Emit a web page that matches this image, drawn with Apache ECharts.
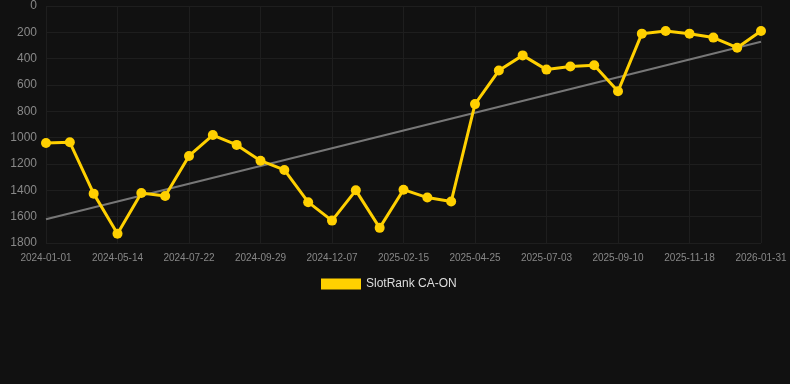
<!DOCTYPE html>
<html>
<head>
<meta charset="utf-8">
<script src="https://cdn.jsdelivr.net/npm/echarts@6/dist/echarts.min.js"></script>
<style>
    html, body { margin: 0; padding: 0; background: #111111; }
    #chart { width: 790px; height: 384px; }
</style>
</head>
<body>
<div id="chart"></div>
<script>
var dates = ['2024-01-01', '2024-02-14', '2024-03-29', '2024-05-14', '2024-06-06', '2024-06-29',
    '2024-07-22', '2024-08-14', '2024-09-06', '2024-09-29', '2024-10-22', '2024-11-14',
    '2024-12-07', '2024-12-30', '2025-01-23', '2025-02-15', '2025-03-10', '2025-04-02',
    '2025-04-25', '2025-05-18', '2025-06-10', '2025-07-03', '2025-07-26', '2025-08-18',
    '2025-09-10', '2025-10-03', '2025-10-26', '2025-11-18', '2025-12-13', '2026-01-07',
    '2026-01-31'];
var ranks = [1040, 1035, 1425, 1730, 1420, 1443, 1139, 980, 1055, 1175, 1245, 1490,
    1630, 1400, 1685, 1395, 1455, 1485, 745, 490, 375, 483, 460, 450,
    648, 210, 190, 210, 240, 317, 190];
var trendEnds = [1620, 271];
var yTicks = [0, 1800, 200];

var myChart = echarts.init(document.getElementById('chart'));
var option = {
    backgroundColor: '#111111',
    animation: false,
    grid: { left: 46, right: 29, top: 6, bottom: 141 },
    legend: {
        data: ['SlotRank CA-ON'],
        top: 273,
        left: 316,
        itemWidth: 40,
        itemHeight: 11,
        icon: 'rect',
        textStyle: { color: '#dddddd', fontSize: 12, fontFamily: 'Liberation Sans' }
    },
    xAxis: {
        type: 'category',
        boundaryGap: false,
        data: dates,
        axisLine: { show: false },
        axisTick: { show: false },
        axisLabel: { color: '#888888', fontSize: 10, interval: 2, margin: 10, fontFamily: 'Liberation Sans' },
        splitLine: { show: true, interval: 2, lineStyle: { color: '#1e1e1e', width: 1 } }
    },
    yAxis: {
        type: 'value',
        inverse: true,
        min: yTicks[0],
        max: yTicks[1],
        interval: yTicks[2],
        axisLine: { show: false },
        axisTick: { show: false },
        axisLabel: {
            color: '#888888', fontSize: 12, margin: 9, fontFamily: 'Liberation Sans',
            formatter: function(v) { return String(v); }
        },
        splitLine: { lineStyle: { color: '#1e1e1e', width: 1 } }
    },
    series: [{
        name: 'trend',
        type: 'line',
        data: [[dates[0], trendEnds[0]], [dates[dates.length - 1], trendEnds[1]]],
        symbol: 'none',
        lineStyle: { color: '#777777', width: 2 },
        z: 1
    }, {
        name: 'SlotRank CA-ON',
        type: 'line',
        data: ranks,
        symbol: 'circle',
        symbolSize: 10,
        itemStyle: { color: '#ffd000' },
        lineStyle: { color: '#ffd000', width: 3 },
        z: 2
    }]
};
myChart.setOption(option);
</script>
</body>
</html>
